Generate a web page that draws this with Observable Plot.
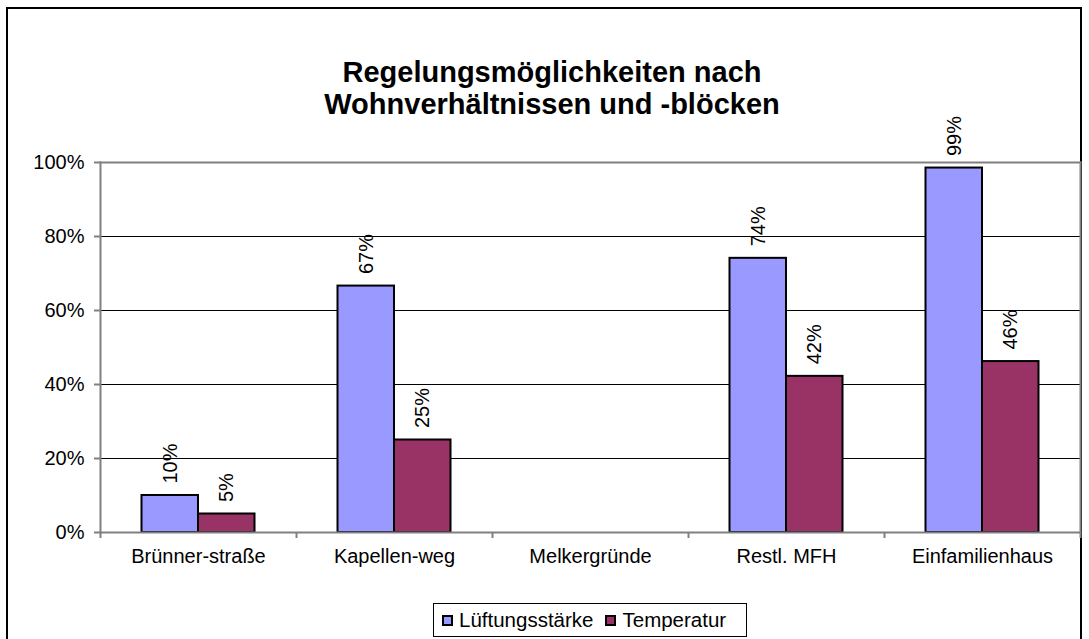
<!DOCTYPE html>
<html>
<head>
<meta charset="utf-8">
<script src="https://cdn.jsdelivr.net/npm/d3@7"></script>
<script src="https://cdn.jsdelivr.net/npm/@observablehq/plot@0.6"></script>
<style>
  html, body { margin: 0; padding: 0; background: #fff; }
  #wrap { position: relative; width: 1089px; height: 639px; overflow: hidden; font-family: Arial, "Liberation Sans", sans-serif; }
  #frame { position: absolute; left: 6px; top: 7px; width: 1076px; height: 700px; border: 2px solid #000; box-sizing: border-box; }
  #title { position: absolute; left: 0; width: 1104px; top: 56px; text-align: center; font-weight: bold; font-size: 29px; line-height: 32px; color: #000; }
  #chart { position: absolute; left: 0; top: 0; }
  #legend { position: absolute; left: 433px; top: 603px; width: 314px; height: 34px; border: 1px solid #000; box-sizing: border-box; display: flex; align-items: center; justify-content: flex-start; padding-left: 8px; gap: 12px; font-size: 20.5px; }
  .item { display: flex; align-items: center; gap: 6px; }
  .sw { width: 11px; height: 11px; border: 2px solid #000; box-sizing: border-box; }
</style>
</head>
<body>
<div id="wrap">
  <div id="frame"></div>
  <div id="chart"></div>
  <div id="title"></div>
  <div id="legend"></div>
</div>
<script>
const titleLines = ["Regelungsmöglichkeiten nach", "Wohnverhältnissen und -blöcken"];
const categories = ["Brünner-straße", "Kapellen-weg", "Melkergründe", "Restl. MFH", "Einfamilienhaus"];
const seriesNames = ["Lüftungsstärke", "Temperatur"];
const seriesColors = ["#9999FF", "#993366"];
const lueftung = [10, 66.6, null, 74.1, 98.5];
const temperatur = [5, 25, null, 42.2, 46.2];
const yTicks = [0, 20, 40, 60, 80, 100];

document.getElementById("title").innerHTML = titleLines.join("<br>");

const mk = (vals, s) => categories.map((c, i) => ({cat: c, series: seriesNames[s], value: vals[i]})).filter(d => d.value != null);
const blue = mk(lueftung, 0);
const red = mk(temperatur, 1);

const W = 1089, H = 639, mL = 100, mR = 9, mT = 162, mB = 107;
const step = (W - mL - mR) / categories.length;
const barW = 56.5;
const outer = (step - 2 * barW) / 2;

const chart = Plot.plot({
  width: W, height: H,
  marginLeft: mL, marginRight: mR, marginTop: mT, marginBottom: mB,
  style: {fontFamily: "Arial, 'Liberation Sans', sans-serif", fontSize: "20px", color: "#000", background: "transparent"},
  x: {type: "band", domain: categories, padding: 0, axis: null, label: null},
  y: {domain: [0, 100], axis: null, label: null},
  marks: [
    Plot.ruleY(yTicks.filter(t => t > 0 && t < 100), {stroke: "#000", strokeWidth: 1}),
    Plot.barY(blue, {x: "cat", y: "value", fill: seriesColors[0], stroke: "#000", strokeWidth: 2, insetLeft: outer, insetRight: step - outer - barW}),
    Plot.barY(red, {x: "cat", y: "value", fill: seriesColors[1], stroke: "#000", strokeWidth: 2, insetLeft: outer + barW, insetRight: outer}),
    Plot.text(blue, {x: "cat", y: "value", text: d => Math.round(d.value) + "%", rotate: -90, textAnchor: "start", dx: -barW / 2, dy: -12, fontSize: 20, fill: "#000"}),
    Plot.text(red, {x: "cat", y: "value", text: d => Math.round(d.value) + "%", rotate: -90, textAnchor: "start", dx: barW / 2, dy: -12, fontSize: 20, fill: "#000"}),
    Plot.frame({anchor: "top", stroke: "#808080", strokeWidth: 2}),
    Plot.frame({anchor: "right", stroke: "#808080", strokeWidth: 2}),
    Plot.frame({anchor: "left", stroke: "#808080", strokeWidth: 2}),
    Plot.ruleY([0], {stroke: "#808080", strokeWidth: 2}),
    Plot.axisY({ticks: yTicks, tickFormat: d => d + "%", tickSize: 6, tickPadding: 10, stroke: "#808080", strokeWidth: 2, fontSize: 20, fill: "#000", strokeOpacity: 1, label: null}),
    Plot.axisX({tickSize: 6, tickFormat: () => "", dx: -step / 2, stroke: "#808080", strokeWidth: 2, strokeOpacity: 1, label: null}),
    Plot.axisX({ticks: [categories[categories.length - 1]], tickSize: 6, tickFormat: () => "", dx: step / 2, stroke: "#808080", strokeWidth: 2, strokeOpacity: 1, label: null}),
    Plot.axisX({tickSize: 0, tickPadding: 16, fontSize: 20, fill: "#000", label: null})
  ]
});
document.getElementById("chart").appendChild(chart);

const legend = document.getElementById("legend");
seriesNames.forEach((n, i) => {
  const it = document.createElement("div");
  it.className = "item";
  it.innerHTML = `<div class="sw" style="background:${seriesColors[i]}"></div><span>${n}</span>`;
  legend.appendChild(it);
});
</script>
</body>
</html>
